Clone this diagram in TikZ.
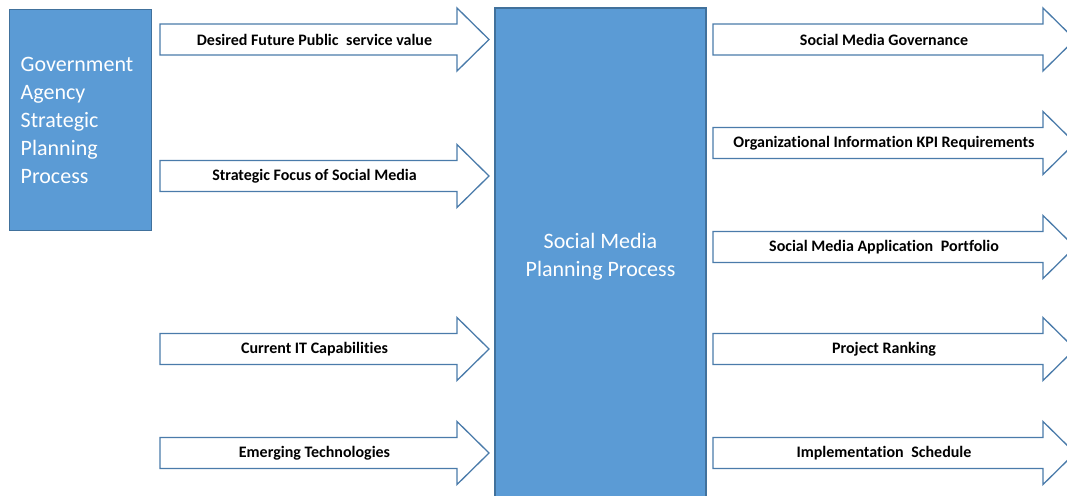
\documentclass[tikz,border=0pt]{standalone}
\usepackage{fontspec}
\setmainfont[Ligatures=CommonOff]{Carlito}
\definecolor{boxblue}{HTML}{5B9BD5}
\definecolor{edgeblue}{HTML}{41719C}
\definecolor{arrowedge}{HTML}{4A7BAA}

% block arrow: name, body start x, head start x, tip x, centre y, label
\newcommand\flowarrow[6]{%
  \draw[blockarrow] (#2,#5-15.5) -- (#3,#5-15.5) -- (#3,#5-31.5) -- (#4,#5)
    -- (#3,#5+31.5) -- (#3,#5+15.5) -- (#2,#5+15.5) -- cycle;
  \node[arrowlabel] (#1) at ({(#2+#3)/2+6},#5) {#6};}

\begin{document}
\begin{tikzpicture}[x=1pt,y=-1pt,
  procbox/.style={draw=edgeblue,fill=boxblue,line width=1.4pt},
  proctext/.style={text=white,font=\fontsize{22}{28}\selectfont,inner sep=0pt},
  blockarrow/.style={draw=arrowedge,fill=white,line width=1.3pt,line join=miter},
  arrowlabel/.style={font=\bfseries\fontsize{16}{18}\selectfont,inner sep=0pt}]
\useasboundingbox (0,0) rectangle (1067,495);
\clip (0,0) rectangle (1067,495);

% source process on the left
\node[procbox,anchor=north west,minimum width=142pt,minimum height=221pt,inner sep=0pt] (agency) at (9,9) {};
\node[proctext,text width=120pt,align=left] (agencytext) at ([yshift=-0.5pt]agency.center)
  {Government\\Agency\\Strategic\\Planning\\Process};

% central planning process (runs off the bottom edge)
\draw[procbox] (495,8) rectangle (706,520);
\coordinate (plancentre) at (600.5,257);
\node[proctext,align=center] (plan) at (plancentre) {Social Media\\Planning Process};

% inputs
\flowarrow{in1}{160}{457}{489}{39.5}{Desired Future Public\hspace{4pt} service value}
\flowarrow{in2}{160}{457}{489}{176}{Strategic Focus of Social Media}
\flowarrow{in3}{160}{457}{489}{349}{Current IT Capabilities}
\flowarrow{in4}{160}{457}{489}{453}{Emerging Technologies}

% outputs
\flowarrow{out1}{713}{1043}{1075}{39.5}{Social Media Governance}
\flowarrow{out2}{713}{1043}{1075}{143}{Organizational Information KPI Requirements}
\flowarrow{out3}{713}{1043}{1075}{247}{Social Media Application\hspace{4pt} Portfolio}
\flowarrow{out4}{713}{1043}{1075}{349}{Project Ranking}
\flowarrow{out5}{713}{1043}{1075}{453}{Implementation\hspace{4pt} Schedule}
\end{tikzpicture}
\end{document}
